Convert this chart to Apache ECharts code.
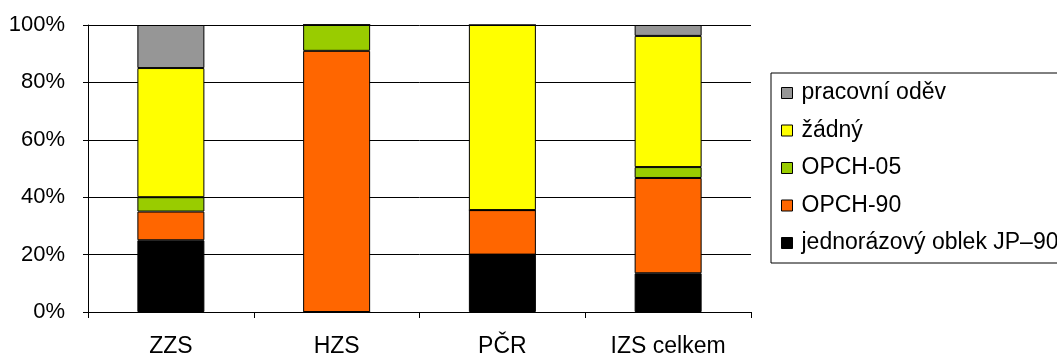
<!DOCTYPE html>
<html>
<head>
<meta charset="utf-8">
<script src="https://cdn.jsdelivr.net/npm/echarts@6/dist/echarts.min.js"></script>
<style>html,body{margin:0;padding:0;background:#fff}#c{width:1057px;height:358px}</style>
</head>
<body>
<div id="c"></div>
<script>
const categories = ['ZZS', 'HZS', 'PČR', 'IZS celkem'];
const jednorazovy = [25, 0, 20, 13.5];
const opch90 = [10, 91, 15.5, 33.2];
const opch05 = [5, 9, 0, 3.8];
const zadny = [45, 0, 64.5, 45.7];
const pracovni = [15, 0, 0, 3.8];
const yTicks = [0, 20, 40, 60, 80, 100];

const names = ['jednorázový oblek JP–90', 'OPCH-90', 'OPCH-05', 'žádný', 'pracovní oděv'];
const colors = ['#000000', '#FF6600', '#99CC00', '#FFFF00', '#969696'];
const values = [jednorazovy, opch90, opch05, zadny, pracovni];

const font = 'Liberation Sans, Arial, sans-serif';
const chart = echarts.init(document.getElementById('c'), null, {renderer: 'canvas'});
chart.setOption({
  animation: false,
  backgroundColor: '#fff',
  grid: {left: 88, right: 306, top: 25, bottom: 44, containLabel: false},
  graphic: [{
    type: 'rect',
    left: 770.5, top: 72.5,
    shape: {width: 400, height: 190},
    style: {fill: '#fff', stroke: '#000', lineWidth: 1},
    z: -1
  }],
  legend: {
    orient: 'vertical',
    left: 781, top: 81.5,
    padding: 0,
    itemGap: 14.5,
    itemWidth: 11, itemHeight: 11,
    icon: 'rect',
    textStyle: {fontFamily: font, fontSize: 23, lineHeight: 23, color: '#000', padding: [0, 0, 0, 4]},
    data: ['pracovní oděv', 'žádný', 'OPCH-05', 'OPCH-90', 'jednorázový oblek JP–90'],
    itemStyle: {borderColor: '#000', borderWidth: 1}
  },
  xAxis: {
    type: 'category',
    data: categories,
    boundaryGap: true,
    axisLine: {lineStyle: {color: '#000', width: 1}},
    axisTick: {show: true, length: 6, inside: false, lineStyle: {color: '#000'}},
    axisLabel: {fontFamily: font, fontSize: 23, color: '#000', margin: 23}
  },
  yAxis: {
    type: 'value',
    min: yTicks[0], max: yTicks[yTicks.length - 1], interval: 20,
    axisLine: {show: true, lineStyle: {color: '#000', width: 1}},
    axisTick: {show: true, length: 5, lineStyle: {color: '#000'}},
    axisLabel: {fontFamily: font, fontSize: 22, color: '#000', margin: 23, formatter: '{value}%'},
    splitLine: {show: true, lineStyle: {color: '#000', width: 1}}
  },
  series: names.map((n, i) => ({
    name: n,
    type: 'bar',
    stack: 'total',
    barWidth: 67,
    data: values[i],
    itemStyle: {color: colors[i], borderColor: '#000', borderWidth: 1}
  }))
});
</script>
</body>
</html>
